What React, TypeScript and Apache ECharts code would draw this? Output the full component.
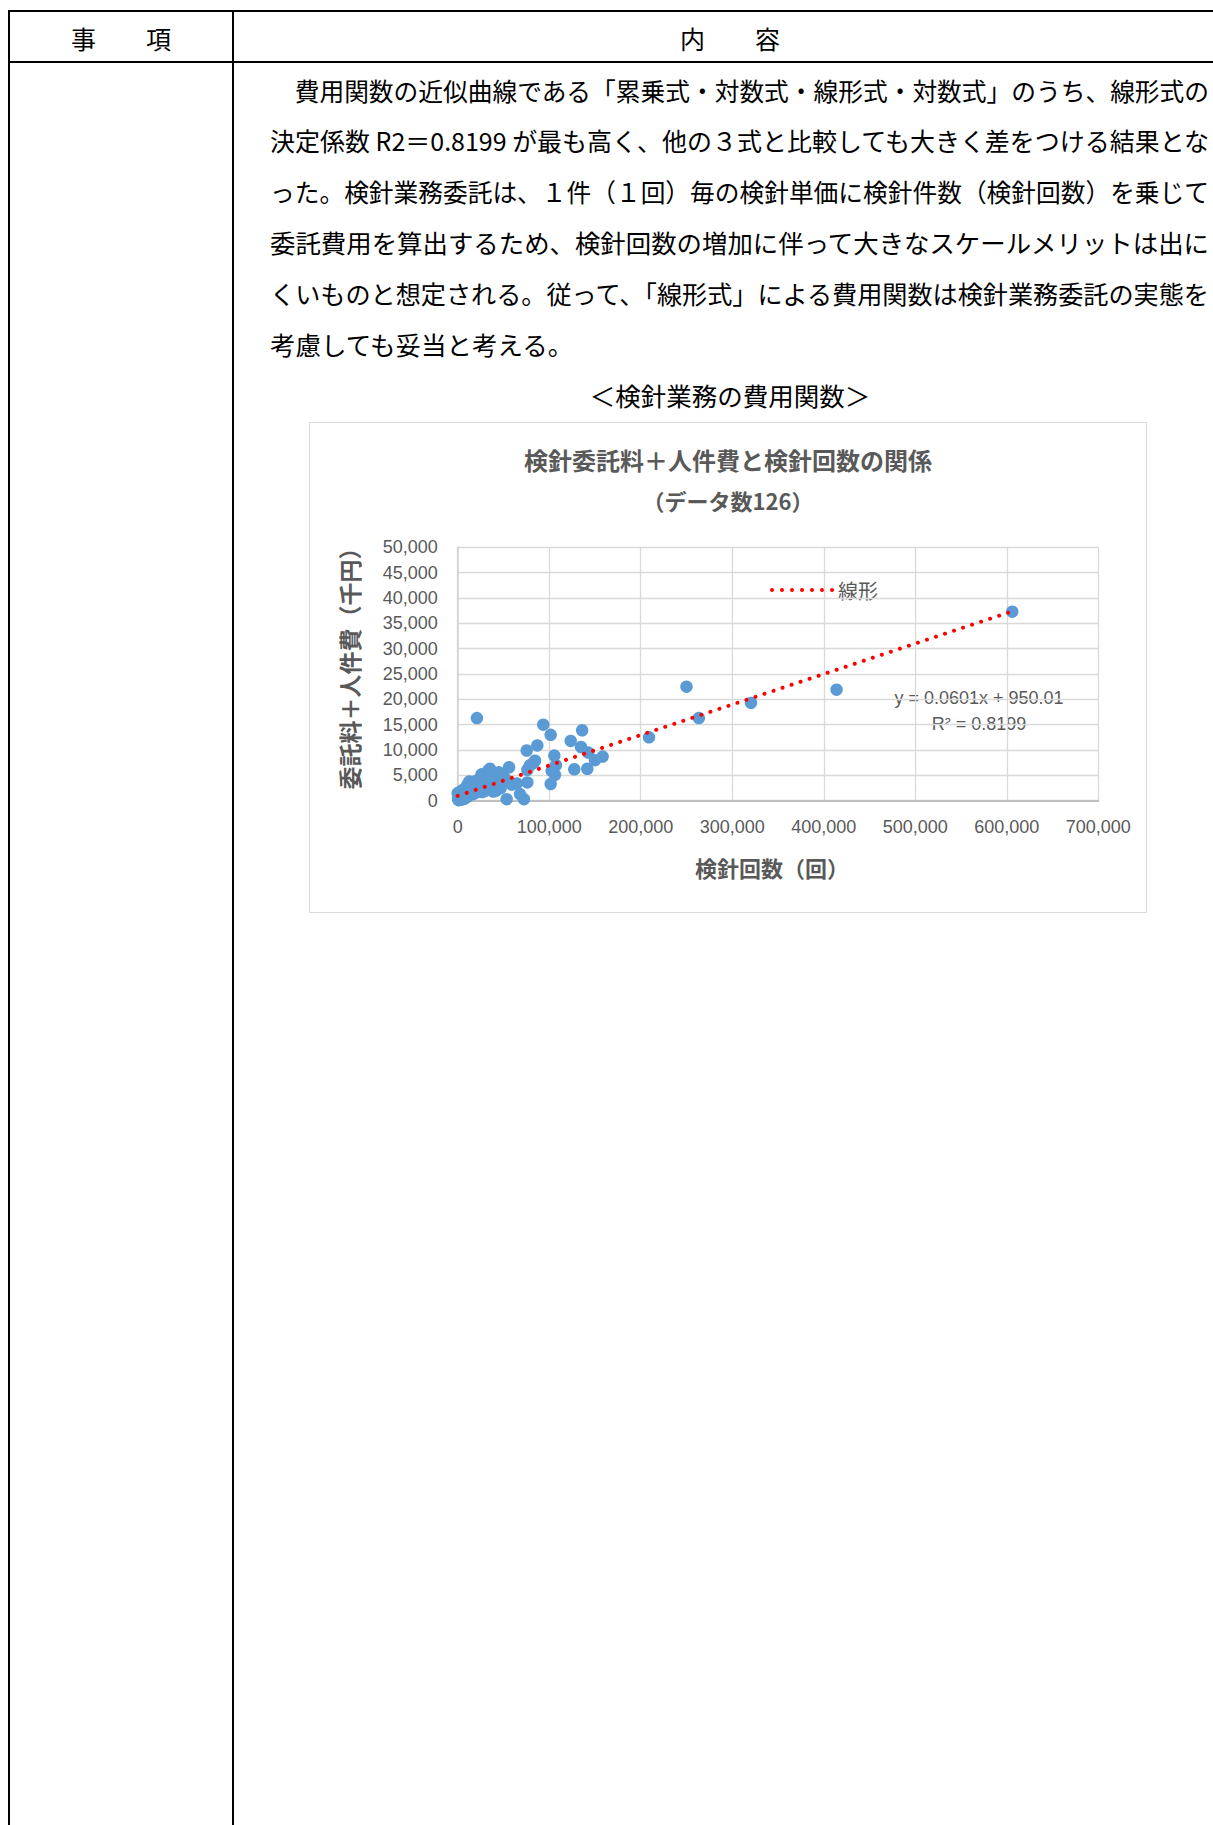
import React, { useEffect, useLayoutEffect, useRef } from "react";
import * as echarts from "echarts";

// ---- data ----
const readingCounts: number[] = [
  606000, 414000, 320500, 263500, 250000, 209000, 158400, 150000, 142700, 141600,
  136000, 134700, 127400, 123500, 107400, 106300, 105600, 102700, 101600, 101600,
  93500, 87000, 84500, 82600, 79000, 76100, 75400, 76100, 72400, 68100,
  64500, 59000, 56100, 53500, 51700, 46200, 38900, 35300, 21000,
  0, 500, 800, 1000, 1200, 1500, 2000, 2200, 2500, 3000,
  3500, 3800, 4000, 4500, 5000, 5200, 5500, 6000, 6500, 6800,
  7000, 7500, 8000, 8500, 9000, 9200, 9500, 10000, 10500, 10800,
  11000, 11500, 12000, 12500, 12800, 13000, 13500, 14000, 14500, 15000,
  15500, 16000, 16500, 17000, 17500, 18000, 18500, 19000, 19500, 20000,
  20500, 21500, 22000, 22500, 23000, 24000, 24500, 25000, 26000, 26000,
  26500, 27000, 28000, 28500, 29000, 30000, 30500, 31000, 32000, 33000,
  33500, 34000, 34500, 35500, 36000, 37000, 38000, 39000, 40000, 41000,
  42000, 43000, 44000, 45000, 47000, 48000, 49000,
];
const costs: number[] = [
  37300, 21900, 19300, 16300, 22500, 12500, 8700, 8000, 9500, 6300,
  13900, 10600, 6200, 11800, 7000, 5100, 8900, 5900, 13000, 3300,
  15000, 10900, 7900, 7400, 7000, 6100, 9900, 3600, 300, 1300,
  3400, 3200, 6600, 300, 4400, 3400, 1800, 6300, 16300,
  1500, 300, 1300, 100, 600, 150, 900, 1700, 400, 1100,
  200, 1300, 700, 1500, 500, 2100, 900, 300, 1200, 1800,
  800, 400, 1600, 1000, 600, 2600, 2000, 1300, 800, 3200,
  2400, 1500, 1000, 2800, 3800, 1800, 1200, 2200, 3000, 1500,
  2600, 1900, 3300, 1300, 2500, 3600, 2000, 2900, 1600, 3900,
  2300, 3200, 1800, 4100, 2700, 3500, 2100, 4300, 2900, 5200,
  3700, 1700, 4500, 2500, 3300, 4000, 2000, 5000, 2800, 3600,
  6000, 4600, 2300, 5400, 3100, 4200, 2600, 5000, 3300, 4100,
  2000, 4800, 3000, 5600, 2500, 4000, 5200,
];

// linear trendline shown on the chart: y = 0.0601x + 950.01
const trendSlope = 0.0601;
const trendIntercept = 950.01;
const trendRangeX: number[] = [0, 606000];

const xMin = 0;
const xMax = 700000;
const xStep = 100000;
const yMin = 0;
const yMax = 50000;
const yStep = 5000;

const chartTitle = "検針委託料＋人件費と検針回数の関係";
const chartSubtitle = "（データ数126）";
const xName = "検針回数（回）";
const yName = "委託料＋人件費（千円）";
const legendName = "線形";
const equationLines: string[] = ["y = 0.0601x + 950.01", "R² = 0.8199"];

const headerLeft = "事　　項";
const headerRight = "内　　容";
const bodyLines: string[] = [
  "　費用関数の近似曲線である「累乗式・対数式・線形式・対数式」のうち、線形式の",
  "決定係数 R2＝0.8199 が最も高く、他の３式と比較しても大きく差をつける結果とな",
  "った。検針業務委託は、１件（１回）毎の検針単価に検針件数（検針回数）を乗じて",
  "委託費用を算出するため、検針回数の増加に伴って大きなスケールメリットは出に",
  "くいものと想定される。従って、「線形式」による費用関数は検針業務委託の実態を",
  "考慮しても妥当と考える。",
];
const caption = "＜検針業務の費用関数＞";

const GRAY = "#595959";
const NUM_FONT = "'Liberation Sans', Arial, sans-serif";
const JP_FONT = "'Noto Sans CJK JP', sans-serif";

const fmt = (v: number) => v.toLocaleString("en-US");

function buildOption() {
  const points = readingCounts.map((x, i) => [x, costs[i]]);
  const trend = trendRangeX.map((x) => [x, trendSlope * x + trendIntercept]);
  return {
    animation: false,
    backgroundColor: "#ffffff",
    title: [
      {
        text: chartTitle,
        left: "center",
        top: 21,
        padding: 0,
        textStyle: { fontSize: 24, fontWeight: "bold", color: GRAY, fontFamily: JP_FONT, lineHeight: 30 },
      },
      {
        text: chartSubtitle,
        left: "center",
        top: 62,
        padding: 0,
        textStyle: { fontSize: 22, fontWeight: "bold", color: GRAY, fontFamily: JP_FONT, lineHeight: 30 },
      },
    ],
    grid: { left: 147.7, right: 47.7, top: 124.3, bottom: 111.3, containLabel: false },
    xAxis: {
      type: "value",
      min: xMin,
      max: xMax,
      interval: xStep,
      axisLine: { show: true, lineStyle: { color: "#bfbfbf", width: 2 } },
      axisTick: { show: false },
      splitLine: { show: true, lineStyle: { color: "#d9d9d9", width: 1.3 } },
      axisLabel: { margin: 17, fontSize: 18, color: GRAY, fontFamily: NUM_FONT, formatter: fmt },
    },
    yAxis: {
      type: "value",
      min: yMin,
      max: yMax,
      interval: yStep,
      axisLine: { show: true, lineStyle: { color: "#d0d0d0", width: 1.5 } },
      axisTick: { show: false },
      splitLine: { show: true, lineStyle: { color: "#d9d9d9", width: 1.3 } },
      axisLabel: { margin: 20, fontSize: 18, color: GRAY, fontFamily: NUM_FONT, formatter: fmt },
    },
    series: [
      {
        name: "data",
        type: "scatter",
        data: points,
        symbol: "circle",
        symbolSize: 12.5,
        itemStyle: { color: "#5B9BD5", opacity: 1 },
        silent: true,
      },
      {
        name: legendName,
        type: "line",
        data: trend,
        symbol: "none",
        silent: true,
        itemStyle: { color: "#FF0000" },
        lineStyle: { color: "#FF0000", width: 4, type: [0.01, 9.5], cap: "round" },
      },
    ],
    graphic: [
      {
        type: "text",
        x: 39,
        y: 240,
        rotation: Math.PI / 2,
        style: {
          text: yName,
          fontSize: 23,
          fontWeight: "bold",
          fill: GRAY,
          fontFamily: JP_FONT,
          align: "center",
          verticalAlign: "middle",
        },
      },
      {
        type: "text",
        x: 462,
        y: 444,
        style: {
          text: xName,
          fontSize: 22,
          fontWeight: "bold",
          fill: GRAY,
          fontFamily: JP_FONT,
          align: "center",
          verticalAlign: "middle",
        },
      },
      // legend for the trendline
      {
        type: "line",
        shape: { x1: 462, y1: 167, x2: 522.01, y2: 167 },
        style: { stroke: "#FF0000", lineWidth: 4, lineDash: [0.01, 9.99], lineCap: "round" },
        silent: true,
      },
      {
        type: "text",
        x: 528,
        y: 167,
        style: {
          text: legendName,
          fontSize: 20,
          fill: GRAY,
          fontFamily: JP_FONT,
          align: "left",
          verticalAlign: "middle",
        },
      },
      ...equationLines.map((t, i) => ({
        type: "text",
        x: 669,
        y: 275 + i * 25.5,
        style: {
          text: t,
          fontSize: 18,
          fill: GRAY,
          fontFamily: NUM_FONT,
          align: "center",
          verticalAlign: "middle",
        },
      })),
    ],
  };
}

const lineCenters: number[] = [91, 141, 192, 243, 294, 345];
const TEXT_LEFT = 270;
const TEXT_RIGHT_LIMIT = 1209;

export default function App() {
  const ref = useRef<HTMLDivElement>(null);
  const lineRefs = useRef<(HTMLDivElement | null)[]>([]);

  useEffect(() => {
    if (!ref.current) return;
    const chart = echarts.init(ref.current, null, { renderer: "svg" });
    chart.setOption(buildOption() as any);
    return () => chart.dispose();
  }, []);

  useLayoutEffect(() => {
    const fit = () => {
      lineRefs.current.forEach((el) => {
        if (!el) return;
        el.style.transform = "";
        const w = el.getBoundingClientRect().width;
        const maxW = TEXT_RIGHT_LIMIT - TEXT_LEFT;
        if (w > maxW) el.style.transform = `scaleX(${maxW / w})`;
      });
    };
    fit();
    if ((document as any).fonts && (document as any).fonts.ready) {
      (document as any).fonts.ready.then(fit);
    }
  }, []);

  const fs = 25.5;
  const textTop = (c: number, size: number) => c - size * 0.556;

  return (
    <div
      style={{
        position: "fixed",
        left: 0,
        top: 0,
        width: 1213,
        height: 1825,
        overflow: "hidden",
        background: "#ffffff",
        fontFamily: JP_FONT,
        color: "#000",
      }}
    >
      {/* table frame */}
      <div style={{ position: "absolute", left: 8, top: 10, width: 1260, height: 1900, border: "2px solid #000", boxSizing: "border-box" }} />
      <div style={{ position: "absolute", left: 8, top: 61, width: 1260, height: 2, background: "#000" }} />
      <div style={{ position: "absolute", left: 232, top: 10, width: 2, height: 1900, background: "#000" }} />

      {/* header */}
      <div style={{ position: "absolute", left: 10, width: 222, top: textTop(40, 25), fontSize: 25, lineHeight: "25px", textAlign: "center", whiteSpace: "nowrap" }}>
        {headerLeft}
      </div>
      <div style={{ position: "absolute", left: 234, width: 992, top: textTop(40, 25), fontSize: 25, lineHeight: "25px", textAlign: "center", whiteSpace: "nowrap" }}>
        {headerRight}
      </div>

      {/* body paragraph */}
      {bodyLines.map((t, i) => (
        <div
          key={i}
          ref={(el) => {
            lineRefs.current[i] = el;
          }}
          style={{
            position: "absolute",
            left: TEXT_LEFT,
            top: textTop(lineCenters[i], fs),
            width: "max-content",
            fontSize: fs,
            lineHeight: fs + "px",
            whiteSpace: "nowrap",
            transformOrigin: "0 50%",
          }}
        >
          {t}
        </div>
      ))}

      {/* caption */}
      <div style={{ position: "absolute", left: 234, width: 992, top: textTop(396, fs), fontSize: fs, lineHeight: fs + "px", textAlign: "center", whiteSpace: "nowrap" }}>
        {caption}
      </div>

      {/* chart frame */}
      <div style={{ position: "absolute", left: 309, top: 422, width: 838, height: 491, border: "1.7px solid #d9d9d9", boxSizing: "border-box" }} />
      <div ref={ref} style={{ position: "absolute", left: 310, top: 423, width: 836, height: 489 }} />
    </div>
  );
}
